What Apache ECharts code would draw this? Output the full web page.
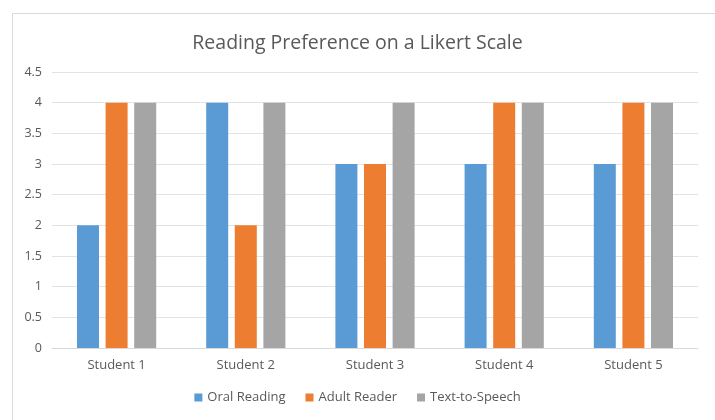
<!DOCTYPE html>
<html><head><meta charset="utf-8">
<script src="https://cdn.jsdelivr.net/npm/echarts@6/dist/echarts.min.js"></script>
<style>html,body{margin:0;padding:0;background:#fff}#c{width:715px;height:420px}</style>
</head><body><div id="c"></div>
<script>
const categories = ['Student 1','Student 2','Student 3','Student 4','Student 5'];
const oralReading = [2, 4, 3, 3, 3];
const adultReader = [4, 2, 3, 4, 4];
const textToSpeech = [4, 4, 4, 4, 4];
const seriesNames = ['Oral Reading','Adult Reader','Text-to-Speech'];
const colors = ['#5B9BD5','#ED7D31','#A5A5A5'];
const font = 'Open Sans';
const chart = echarts.init(document.getElementById('c'));
chart.setOption({
  animation:false,
  color: colors,
  graphic:[{type:'rect',left:10,top:11,shape:{width:720,height:420},style:{fill:'none',stroke:'#d9d9d9',lineWidth:1},z:-1}],
  title:{text:'Reading Preference on a Likert Scale',left:'center',top:28,
    textStyle:{fontFamily:font,fontSize:19.5,fontWeight:'normal',color:'#595959'}},
  legend:{bottom:11,left:'center',itemWidth:8,itemHeight:8,itemGap:20,icon:'rect',
    textStyle:{fontFamily:font,fontSize:13,color:'#595959'},data:seriesNames},
  grid:{left:52,right:17,top:72,bottom:72},
  xAxis:{type:'category',data:categories,axisTick:{show:false},
    axisLine:{lineStyle:{color:'#d9d9d9'}},
    axisLabel:{fontFamily:font,fontSize:13,color:'#595959',margin:11}},
  yAxis:{type:'value',min:0,max:4.5,interval:0.5,
    axisLine:{show:false},axisTick:{show:false},
    splitLine:{lineStyle:{color:'#e3e3e3'}},
    axisLabel:{fontFamily:font,fontSize:12.5,color:'#595959',margin:10}},
  series:[
    {name:seriesNames[0],type:'bar',data:oralReading,barWidth:22,barGap:'30%'},
    {name:seriesNames[1],type:'bar',data:adultReader,barWidth:22,barGap:'30%'},
    {name:seriesNames[2],type:'bar',data:textToSpeech,barWidth:22,barGap:'30%'}
  ]
});
</script></body></html>
